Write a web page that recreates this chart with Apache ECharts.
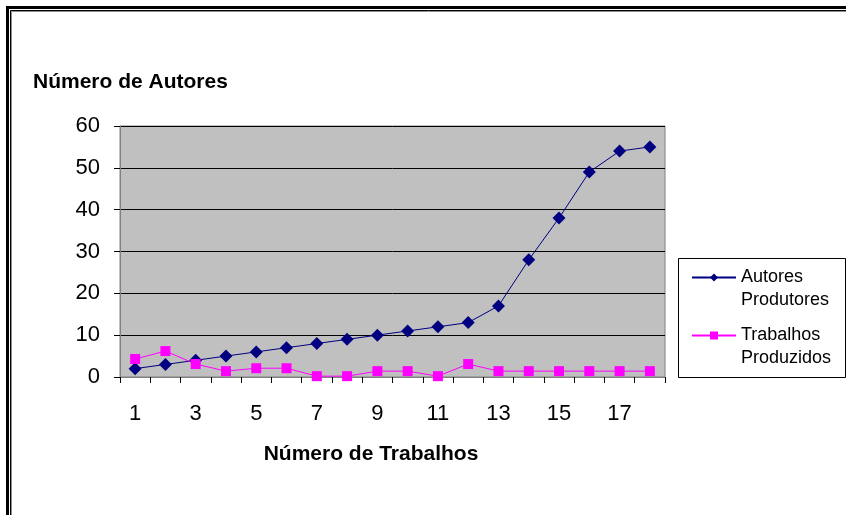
<!DOCTYPE html>
<html>
<head>
<meta charset="utf-8">
<script src="https://cdn.jsdelivr.net/npm/echarts@6/dist/echarts.min.js"></script>
<style>
    html, body { margin: 0; padding: 0; background: #fff; }
    #chart { width: 846px; height: 515px; }
</style>
</head>
<body>
<div id="chart"></div>
<script>
    // dados
    var categorias = ['1', '2', '3', '4', '5', '6', '7', '8', '9', '10', '11', '12', '13', '14', '15', '16', '17', '18']
    var autoresProdutores = [2, 3, 4, 5, 6, 7, 8, 9, 10, 11, 12, 13, 17, 28, 38, 49, 54, 55]
    var trabalhosProduzidos = [4.3, 6.2, 3.1, 1.4, 2.1, 2.1, 0.2, 0.2, 1.4, 1.4, 0.2, 3.1, 1.4, 1.4, 1.4, 1.4, 1.4, 1.4]
    var yTicks = { min: 0, max: 60, interval: 10 }

    var fonte = 'Liberation Sans, Arial, sans-serif'
    var myChart = echarts.init(document.getElementById('chart'), null, { renderer: 'canvas' })

    var option = {
        animation: false,
        backgroundColor: '#ffffff',
        title: {
            text: 'Número de Autores',
            left: 33,
            top: 72,
            padding: 0,
            textStyle: { fontFamily: fonte, fontSize: 21, fontWeight: 'bold', color: '#000' }
        },
        grid: {
            left: 120,
            top: 126,
            right: 181,
            bottom: 138,
            show: true,
            backgroundColor: '#c0c0c0',
            borderColor: '#808080',
            borderWidth: 1
        },
        legend: {
            orient: 'vertical',
            left: 691,
            top: 243,
            padding: 0,
            itemGap: -11,
            itemWidth: 44,
            itemHeight: 10,
            data: ['Autores\nProdutores', 'Trabalhos\nProduzidos'],
            // linha vazia em cima: o ícone fica alinhado com a primeira linha do texto
            formatter: function (name) { return '\n' + name },
            textStyle: {
                fontFamily: fonte,
                fontSize: 18,
                lineHeight: 23,
                color: '#000'
            }
        },
        xAxis: {
            type: 'category',
            data: categorias,
            boundaryGap: true,
            name: 'Número de Trabalhos',
            nameLocation: 'middle',
            nameGap: 67,
            nameTextStyle: {
                fontFamily: fonte, fontSize: 21, fontWeight: 'bold', color: '#000',
                padding: [0, 43, 0, 0]
            },
            axisLine: { lineStyle: { color: '#808080', width: 1 } },
            axisTick: { show: true, interval: 0, length: 6, lineStyle: { color: '#000' } },
            axisLabel: { interval: 1, margin: 26, fontFamily: fonte, fontSize: 22, color: '#000' },
            splitLine: { show: false }
        },
        yAxis: {
            type: 'value',
            min: yTicks.min,
            max: yTicks.max,
            interval: yTicks.interval,
            axisLine: { show: true, lineStyle: { color: '#808080', width: 1 } },
            axisTick: { show: true, length: 6, lineStyle: { color: '#000' } },
            axisLabel: { margin: 20, fontFamily: fonte, fontSize: 22, color: '#000' },
            splitLine: { show: true, lineStyle: { color: '#000', width: 1 } }
        },
        series: [{
            name: 'Autores\nProdutores',
            type: 'line',
            data: autoresProdutores,
            symbol: 'diamond',
            symbolSize: 13,
            color: '#000080',
            lineStyle: { width: 1, color: '#000080' },
            itemStyle: { color: '#000080' }
        }, {
            name: 'Trabalhos\nProduzidos',
            type: 'line',
            data: trabalhosProduzidos,
            symbol: 'rect',
            symbolSize: 10,
            color: '#ff00ff',
            lineStyle: { width: 1, color: '#ff00ff' },
            itemStyle: { color: '#ff00ff' }
        }],
        graphic: [
            // moldura da legenda
            { type: 'rect', shape: { x: 678.5, y: 258.5, width: 167, height: 119 }, style: { fill: 'none', stroke: '#000', lineWidth: 1 }, z: -1 },
            // moldura externa (dupla)
            { type: 'polyline', shape: { points: [[7.5, 515], [7.5, 7.5], [846, 7.5]] }, style: { stroke: '#000', lineWidth: 3, fill: 'none' } },
            { type: 'polyline', shape: { points: [[10.5, 515], [10.5, 10.5], [846, 10.5]] }, style: { stroke: '#000', lineWidth: 1, fill: 'none' } },
            { type: 'polyline', shape: { points: [[11.5, 515], [11.5, 11.5], [846, 11.5]] }, style: { stroke: '#909090', lineWidth: 1, fill: 'none' } }
        ]
    }
    myChart.setOption(option)
</script>
</body>
</html>
